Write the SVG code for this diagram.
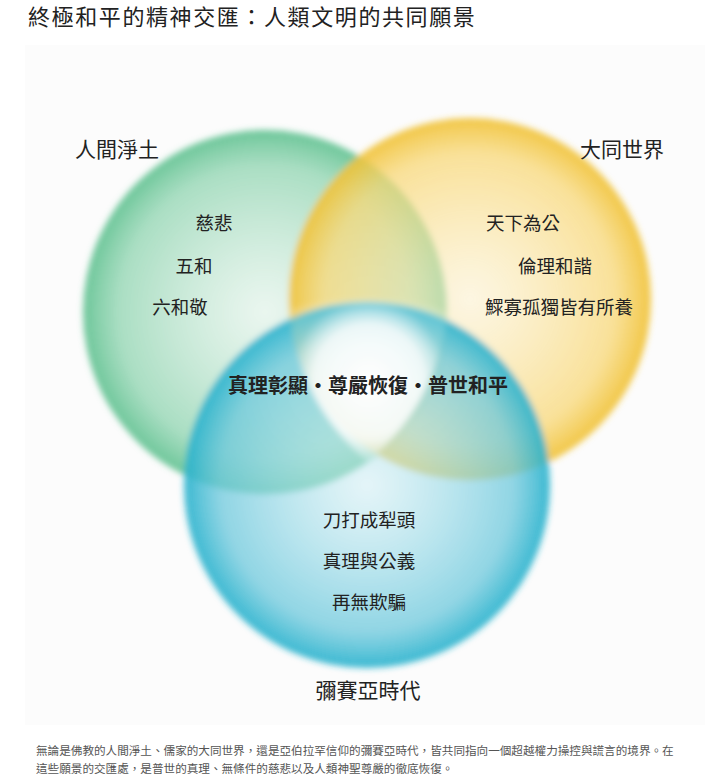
<svg xmlns="http://www.w3.org/2000/svg" width="719" height="779" viewBox="0 0 719 779">
<style>
text{font-family:"Noto Sans CJK TC","Noto Sans CJK SC",sans-serif;fill:#222}
.lab{font-size:21px}
.in{font-size:18.5px}
.cap{font-size:11.6px;fill:#555}
</style>
<defs>
<radialGradient id="gG"><stop offset="0" stop-color="#d8f0e2" stop-opacity="0.5"/><stop offset="0.8" stop-color="#8fd4b0" stop-opacity="0.75"/><stop offset="1" stop-color="#5cc08e" stop-opacity="0.9"/></radialGradient>
<radialGradient id="gY"><stop offset="0" stop-color="#fdf0c8" stop-opacity="0.5"/><stop offset="0.8" stop-color="#f8d878" stop-opacity="0.75"/><stop offset="1" stop-color="#f0c030" stop-opacity="0.9"/></radialGradient>
<radialGradient id="gB"><stop offset="0" stop-color="#cdeef4" stop-opacity="0.5"/><stop offset="0.8" stop-color="#6cc8dc" stop-opacity="0.75"/><stop offset="1" stop-color="#22b0cc" stop-opacity="0.9"/></radialGradient>
<radialGradient id="gW"><stop offset="0" stop-color="#fff" stop-opacity="1"/><stop offset="0.7" stop-color="#fff" stop-opacity="0.85"/><stop offset="1" stop-color="#fff" stop-opacity="0.2"/></radialGradient>
<filter id="bl"><feGaussianBlur stdDeviation="3"/></filter>
</defs>
<rect width="719" height="779" fill="#fff"/>
<rect x="25" y="45" width="680" height="680" fill="#fcfcfc"/>
<text x="28" y="25" style="font-size:22px;letter-spacing:1.6px">終極和平的精神交匯：人類文明的共同願景</text>
<g id="circles" filter="url(#bl)">
<g id="green"><circle cx="265" cy="312" r="182" fill="url(#gG)"/></g>
<g id="yellow"><circle cx="470" cy="299" r="181" fill="url(#gY)"/></g>
<g id="blue"><circle cx="367" cy="485" r="183" fill="url(#gB)"/></g>
<g id="center"><path d="M290,310 Q368,288 447,312 Q440,400 368,462 Q296,400 290,310Z" fill="url(#gW)"/></g>
</g>
<text class="lab" x="75" y="157">人間淨土</text>
<text class="lab" x="580" y="157">大同世界</text>
<text class="lab" x="368" y="698" text-anchor="middle">彌賽亞時代</text>
<text class="in" x="214" y="230" text-anchor="middle">慈悲</text>
<text class="in" x="194" y="273" text-anchor="middle">五和</text>
<text class="in" x="180" y="314" text-anchor="middle">六和敬</text>
<text class="in" x="523" y="230" text-anchor="middle">天下為公</text>
<text class="in" x="555" y="273" text-anchor="middle">倫理和諧</text>
<text class="in" x="559" y="314" text-anchor="middle">鰥寡孤獨皆有所養</text>
<text x="368" y="393" text-anchor="middle" style="font-weight:700;font-size:20px">真理彰顯・尊嚴恢復・普世和平</text>
<text class="in" x="369" y="527" text-anchor="middle">刀打成犁頭</text>
<text class="in" x="369" y="568" text-anchor="middle">真理與公義</text>
<text class="in" x="369" y="609" text-anchor="middle">再無欺騙</text>
<text class="cap" x="36" y="755">無論是佛教的人間淨土、儒家的大同世界，還是亞伯拉罕信仰的彌賽亞時代，皆共同指向一個超越權力操控與謊言的境界。在</text>
<text class="cap" x="36" y="773">這些願景的交匯處，是普世的真理、無條件的慈悲以及人類神聖尊嚴的徹底恢復。</text>
</svg>
